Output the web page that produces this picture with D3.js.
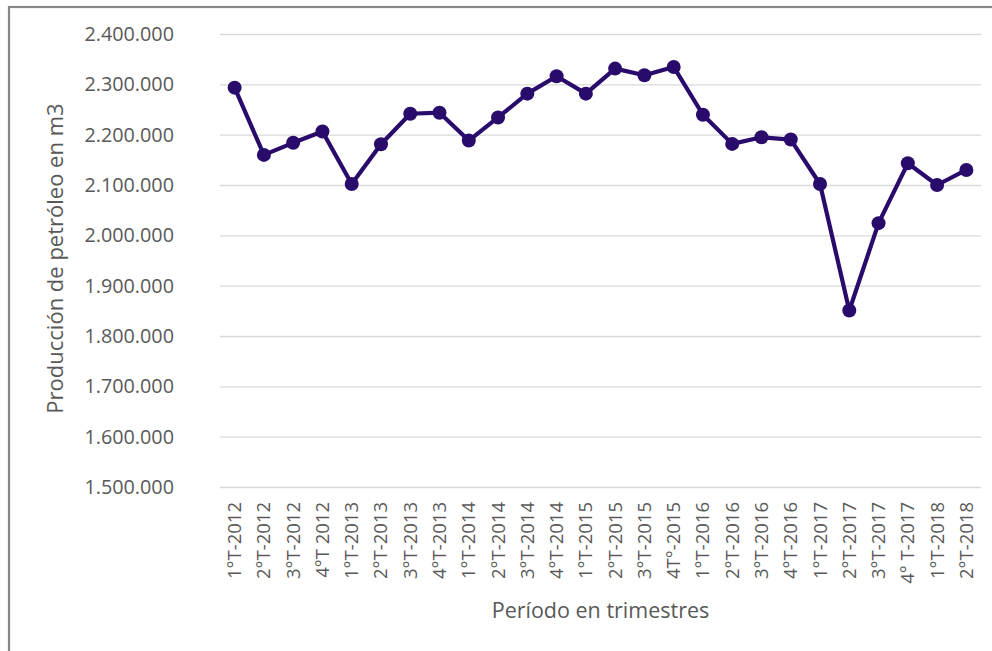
<!DOCTYPE html>
<html>
<head>
<meta charset="utf-8">
<script src="https://cdn.jsdelivr.net/npm/d3@7"></script>
<style>
html,body{margin:0;padding:0;background:#fff;}
svg{display:block;}
text{font-family:"Open Sans",sans-serif;fill:#595959;}
</style>
</head>
<body>
<svg id="chart" width="992" height="651"></svg>
<script>
const categories = ["1°T-2012","2°T-2012","3°T-2012","4°T 2012","1°T-2013","2°T-2013","3°T-2013","4°T-2013","1°T-2014","2°T-2014","3°T-2014","4°T-2014","1°T-2015","2°T-2015","3°T-2015","4T°-2015","1°T-2016","2°T-2016","3°T-2016","4°T-2016","1°T-2017","2°T-2017","3°T-2017","4° T-2017","1°T-2018","2°T-2018"];
const production = [2293400,2159800,2183800,2206300,2102000,2181000,2241600,2243600,2188300,2234200,2281500,2316000,2281500,2331300,2318000,2334500,2239600,2181700,2194900,2190300,2102000,1850700,2024200,2143100,2100000,2129900];
const yTicks = [1500000,1600000,1700000,1800000,1900000,2000000,2100000,2200000,2300000,2400000];
const yTitle = "Producción de petróleo en m3";
const xTitle = "Período en trimestres";

const svg = d3.select("#chart");
const margin = {left:220, right:11, top:34, bottom:164};
const W = 992, H = 651;

svg.append("rect").attr("x",9).attr("y",7).attr("width",1000).attr("height",700)
  .attr("fill","none").attr("stroke","#878787").attr("stroke-width",2.2);

const x = d3.scaleBand().domain(categories).range([margin.left, W - margin.right]);
const y = d3.scaleLinear().domain([1500000,2400000]).range([H - margin.bottom, margin.top]);

const fmt = v => d3.format(",")(v).replace(/,/g,".");

// grid
const yAxis = d3.axisLeft(y).tickValues(yTicks).tickFormat(fmt).tickSize(-(W - margin.right - margin.left)).tickPadding(46);
const gy = svg.append("g").attr("transform",`translate(${margin.left},0)`).call(yAxis);
gy.select(".domain").remove();
gy.selectAll(".tick line").attr("stroke","#d9d9d9").attr("stroke-width",1.3);
gy.selectAll(".tick text").attr("font-size",19.8).style("fill","#595959").style("font-family","'Open Sans',sans-serif");

// x axis labels
const xAxis = d3.axisBottom(x).tickSize(0).tickPadding(0);
const gx = svg.append("g").attr("transform",`translate(0,${H - margin.bottom})`).call(xAxis);
gx.select(".domain").remove();
gx.selectAll(".tick text")
  .attr("font-size",18.5).style("fill","#595959").style("font-family","'Open Sans',sans-serif")
  .attr("text-anchor","end").attr("transform","rotate(-90)")
  .attr("x",-15).attr("y",0).attr("dy","0.35em");

// line
const line = d3.line().x((d,i)=>x(categories[i]) + x.bandwidth()/2).y(d=>y(d));
svg.append("path").datum(production).attr("d",line)
  .attr("fill","none").attr("stroke","#290b6c").attr("stroke-width",4.2).attr("stroke-linejoin","round");
svg.append("g").selectAll("circle").data(production).join("circle")
  .attr("cx",(d,i)=>x(categories[i]) + x.bandwidth()/2).attr("cy",d=>y(d)).attr("r",7)
  .attr("fill","#290b6c");

// titles
svg.append("text").attr("transform",`translate(63,${(margin.top + H - margin.bottom)/2 - 2}) rotate(-90)`)
  .attr("text-anchor","middle").attr("font-size",22).text(yTitle);
svg.append("text").attr("x",(margin.left + W - margin.right)/2).attr("y",618)
  .attr("text-anchor","middle").attr("font-size",21.5).text(xTitle);
</script>
</body>
</html>
